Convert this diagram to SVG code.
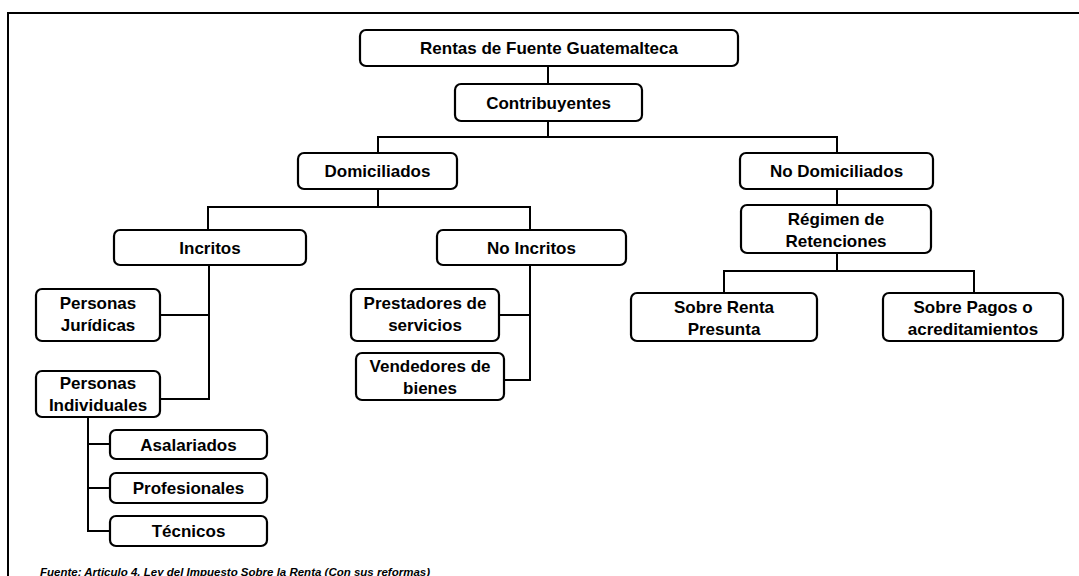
<svg xmlns="http://www.w3.org/2000/svg" width="1079" height="576" viewBox="0 0 1079 576">
<style>
.box{fill:#fff;stroke:#000;stroke-width:2.2}
.t{font-family:"Liberation Sans",Arial,sans-serif;font-weight:bold;font-size:17px;fill:#000;text-anchor:middle}
.c{fill:none;stroke:#000;stroke-width:2}
.foot{font-family:"Liberation Sans",Arial,sans-serif;font-style:italic;font-weight:bold;font-size:11.5px;fill:#000}
</style>
<rect width="1079" height="576" fill="#fff"/>
<path d="M1079,13 H8 V576" fill="none" stroke="#000" stroke-width="2"/>
<g id="connectors">
<path class="c" d="M548,66 V84"/>
<path class="c" d="M548,121 V137 M378,153 V137 H837 V153"/>
<path class="c" d="M378,189 V207 M208,230 V207 H530 V230"/>
<path class="c" d="M209,265 V399 H160 M160,315 H209"/>
<path class="c" d="M530,265 V380 H504 M499,315 H530"/>
<path class="c" d="M837,189 V205"/>
<path class="c" d="M837,253 V271 M724,293 V271 H974 V293"/>
<path class="c" d="M88,417 V531 H110 M88,444 H110 M88,488 H110"/>
</g>
<g id="rentas"><rect class="box" x="360" y="30" width="378" height="36" rx="6"/><text class="t" x="549" y="54">Rentas de Fuente Guatemalteca</text></g>
<g id="contribuyentes"><rect class="box" x="455" y="84" width="187" height="37" rx="6"/><text class="t" x="548.5" y="108.5">Contribuyentes</text></g>
<g id="domiciliados"><rect class="box" x="298" y="153" width="159" height="36" rx="6"/><text class="t" x="377.5" y="177">Domiciliados</text></g>
<g id="no-domiciliados"><rect class="box" x="740" y="153" width="193" height="36" rx="6"/><text class="t" x="836.5" y="177">No Domiciliados</text></g>
<g id="incritos"><rect class="box" x="114" y="230" width="192" height="35" rx="6"/><text class="t" x="210" y="253.5">Incritos</text></g>
<g id="no-incritos"><rect class="box" x="437" y="230" width="189" height="35" rx="6"/><text class="t" x="531.5" y="253.5">No Incritos</text></g>
<g id="personas-juridicas"><rect class="box" x="36" y="289" width="124" height="52" rx="6"/><text class="t" x="98" y="309">Personas</text><text class="t" x="98" y="331">Jurídicas</text></g>
<g id="personas-individuales"><rect class="box" x="36" y="371" width="124" height="46" rx="6"/><text class="t" x="98" y="389">Personas</text><text class="t" x="98" y="411">Individuales</text></g>
<g id="prestadores"><rect class="box" x="351" y="289" width="148" height="52" rx="6"/><text class="t" x="425" y="309">Prestadores de</text><text class="t" x="425" y="331">servicios</text></g>
<g id="vendedores"><rect class="box" x="356" y="353" width="148" height="47" rx="6"/><text class="t" x="430" y="372">Vendedores de</text><text class="t" x="430" y="394">bienes</text></g>
<g id="regimen"><rect class="box" x="741" y="205" width="190" height="48" rx="6"/><text class="t" x="836" y="225">Régimen de</text><text class="t" x="836" y="247">Retenciones</text></g>
<g id="sobre-renta"><rect class="box" x="631" y="293" width="186" height="48" rx="6"/><text class="t" x="724" y="313">Sobre Renta</text><text class="t" x="724" y="335">Presunta</text></g>
<g id="sobre-pagos"><rect class="box" x="883" y="293" width="180" height="48" rx="6"/><text class="t" x="973" y="313">Sobre Pagos o</text><text class="t" x="973" y="335">acreditamientos</text></g>
<g id="asalariados"><rect class="box" x="110" y="430" width="157" height="29" rx="6"/><text class="t" x="188.5" y="450.5">Asalariados</text></g>
<g id="profesionales"><rect class="box" x="110" y="473" width="157" height="30" rx="6"/><text class="t" x="188.5" y="494">Profesionales</text></g>
<g id="tecnicos"><rect class="box" x="110" y="516" width="157" height="30" rx="6"/><text class="t" x="188.5" y="537">Técnicos</text></g>
<text class="foot" x="40" y="576">Fuente: Articulo 4, Ley del Impuesto Sobre la Renta (Con sus reformas)</text>
</svg>
